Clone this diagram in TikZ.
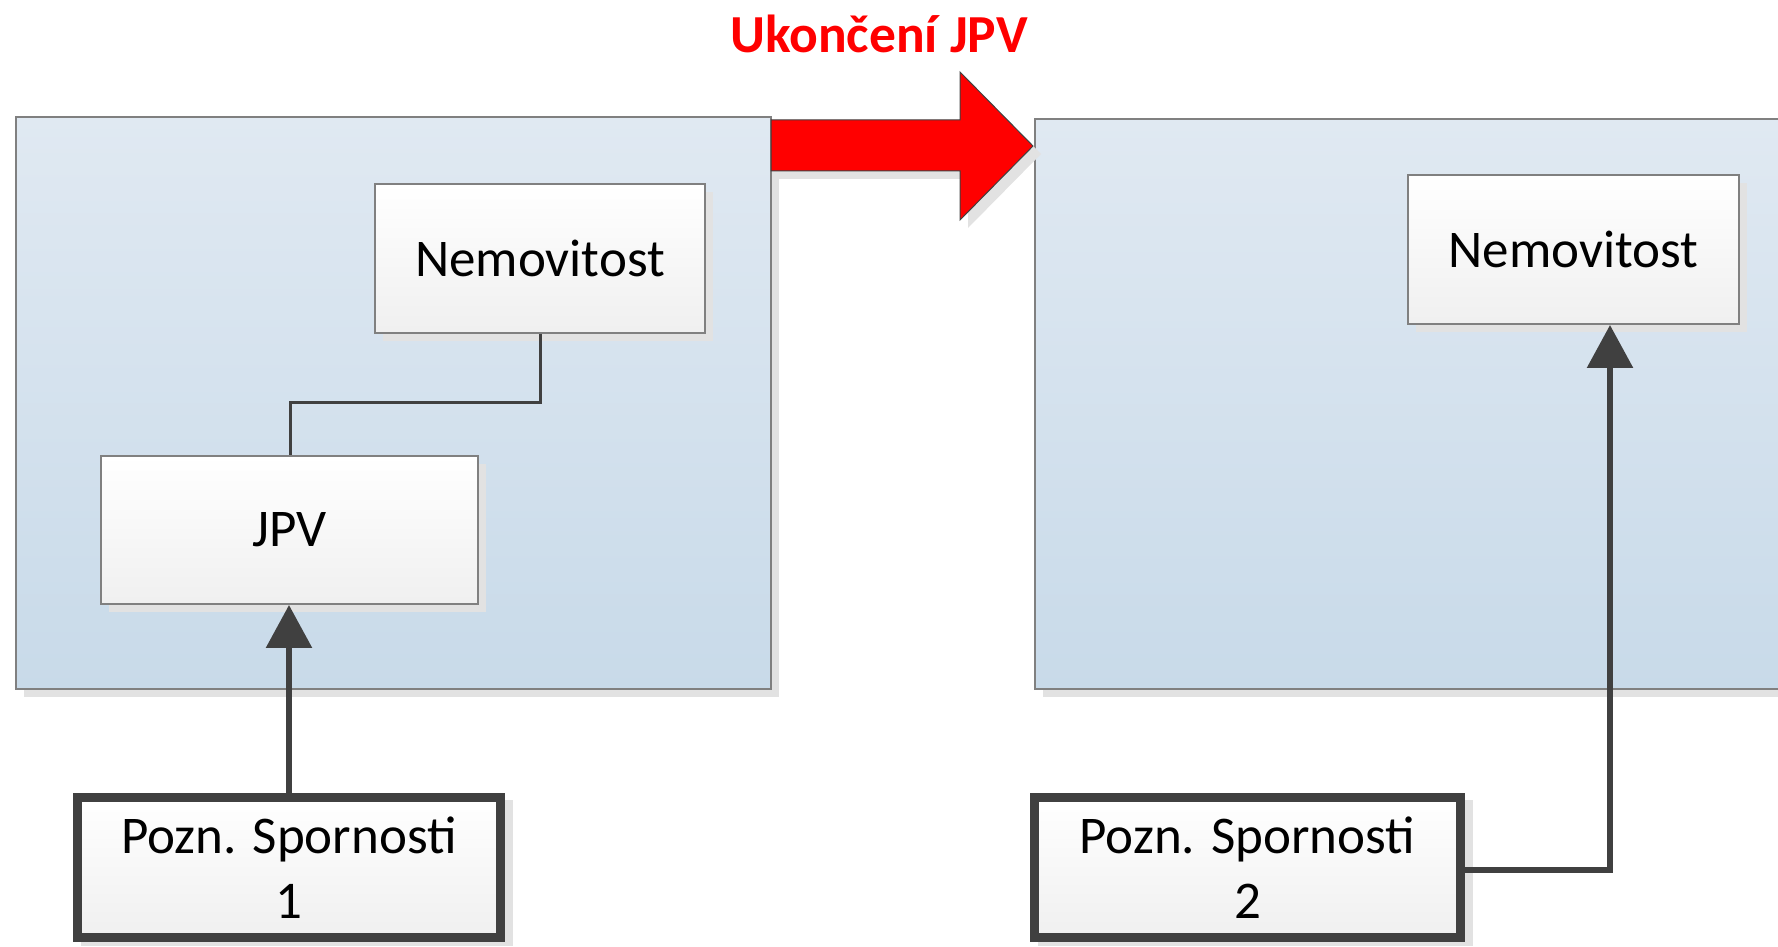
\documentclass[tikz,border=0pt]{standalone}
\usepackage{fontspec}
\setmainfont{Carlito}
\usetikzlibrary{arrows.meta,calc}
\definecolor{dk}{HTML}{404040}
\definecolor{bord}{HTML}{808080}
\definecolor{shd}{HTML}{E2E2E2}
\definecolor{contTop}{HTML}{E0E9F2}
\definecolor{contBot}{HTML}{C8DAE9}
\tikzset{
  container/.style={draw=bord, line width=2pt, top color=contTop, bottom color=contBot},
  entity/.style={draw=bord, line width=2pt, top color=white, bottom color=black!6,
    minimum width=330pt, minimum height=149pt, inner sep=0pt,
    font=\fontsize{53}{64}\selectfont},
  note/.style={draw=dk, line width=9pt, top color=white, bottom color=black!6,
    minimum height=140pt, inner sep=0pt, align=center,
    font=\fontsize{53}{65}\selectfont},
  link/.style={draw=dk, line width=3pt},
  ref/.style={draw=dk, line width=6pt, -{Triangle[width=45pt,length=43pt]}},
  shadowbox/.style={fill=shd, draw=none}
}
\begin{document}
\begin{tikzpicture}[x=1pt,y=1pt]
\useasboundingbox (0,0) rectangle (1778,946);
% container shadows
\fill[shadowbox] (24,249) rectangle (779,821);
\fill[shadowbox] (1043,249) rectangle (1800,819);
% containers
\path[container] (16,257) rectangle (771,829);
\path[container] (1035,257) rectangle (1800,827);
% red arrow
\fill[shd] (779,818) -- (968,818) -- (968,866) -- (1041,792) -- (968,718) -- (968,767) -- (779,767) -- cycle;
\filldraw[fill=red, draw=dk, line width=1pt] (771,826) -- (960,826) -- (960,874) -- (1033,800) -- (960,726) -- (960,775) -- (771,775) -- cycle;
\node[text=red, font=\fontsize{53.5}{64}\selectfont\bfseries] (title) at (879,912) {Ukončení JPV};
% inner boxes shadows
\fill[shadowbox] (383,605) rectangle (713,754);
\fill[shadowbox] (109,334) rectangle (486,482);
\fill[shadowbox] (1416,614) rectangle (1747,763);
\fill[shadowbox] (81,0) rectangle (513,146);
\fill[shadowbox] (1038,0) rectangle (1473,146);
% entities
\node[entity] (nem1) at (540,687.5) {Nemovitost};
\node[entity, minimum width=377pt, minimum height=148pt] (jpv) at (289.5,416) {JPV};
\node[entity, minimum width=331pt] (nem2) at (1573.5,696.5) {Nemovitost};
% notes
\node[note, minimum width=423pt] (p1) at (289,78.5) {Pozn. Spornosti\\1};
\node[note, minimum width=426pt] (p2) at (1247.5,78.5) {Pozn. Spornosti\\2};
% connectors
\draw[link] (nem1.south) |- (290,543) -| (jpv.north -| 290,0);
\draw[ref] (p1.north) -- (jpv.south -| p1.north);
\draw[ref] (p2.east |- 0,76) -| (nem2.south -| 1610,0);
\end{tikzpicture}
\end{document}
